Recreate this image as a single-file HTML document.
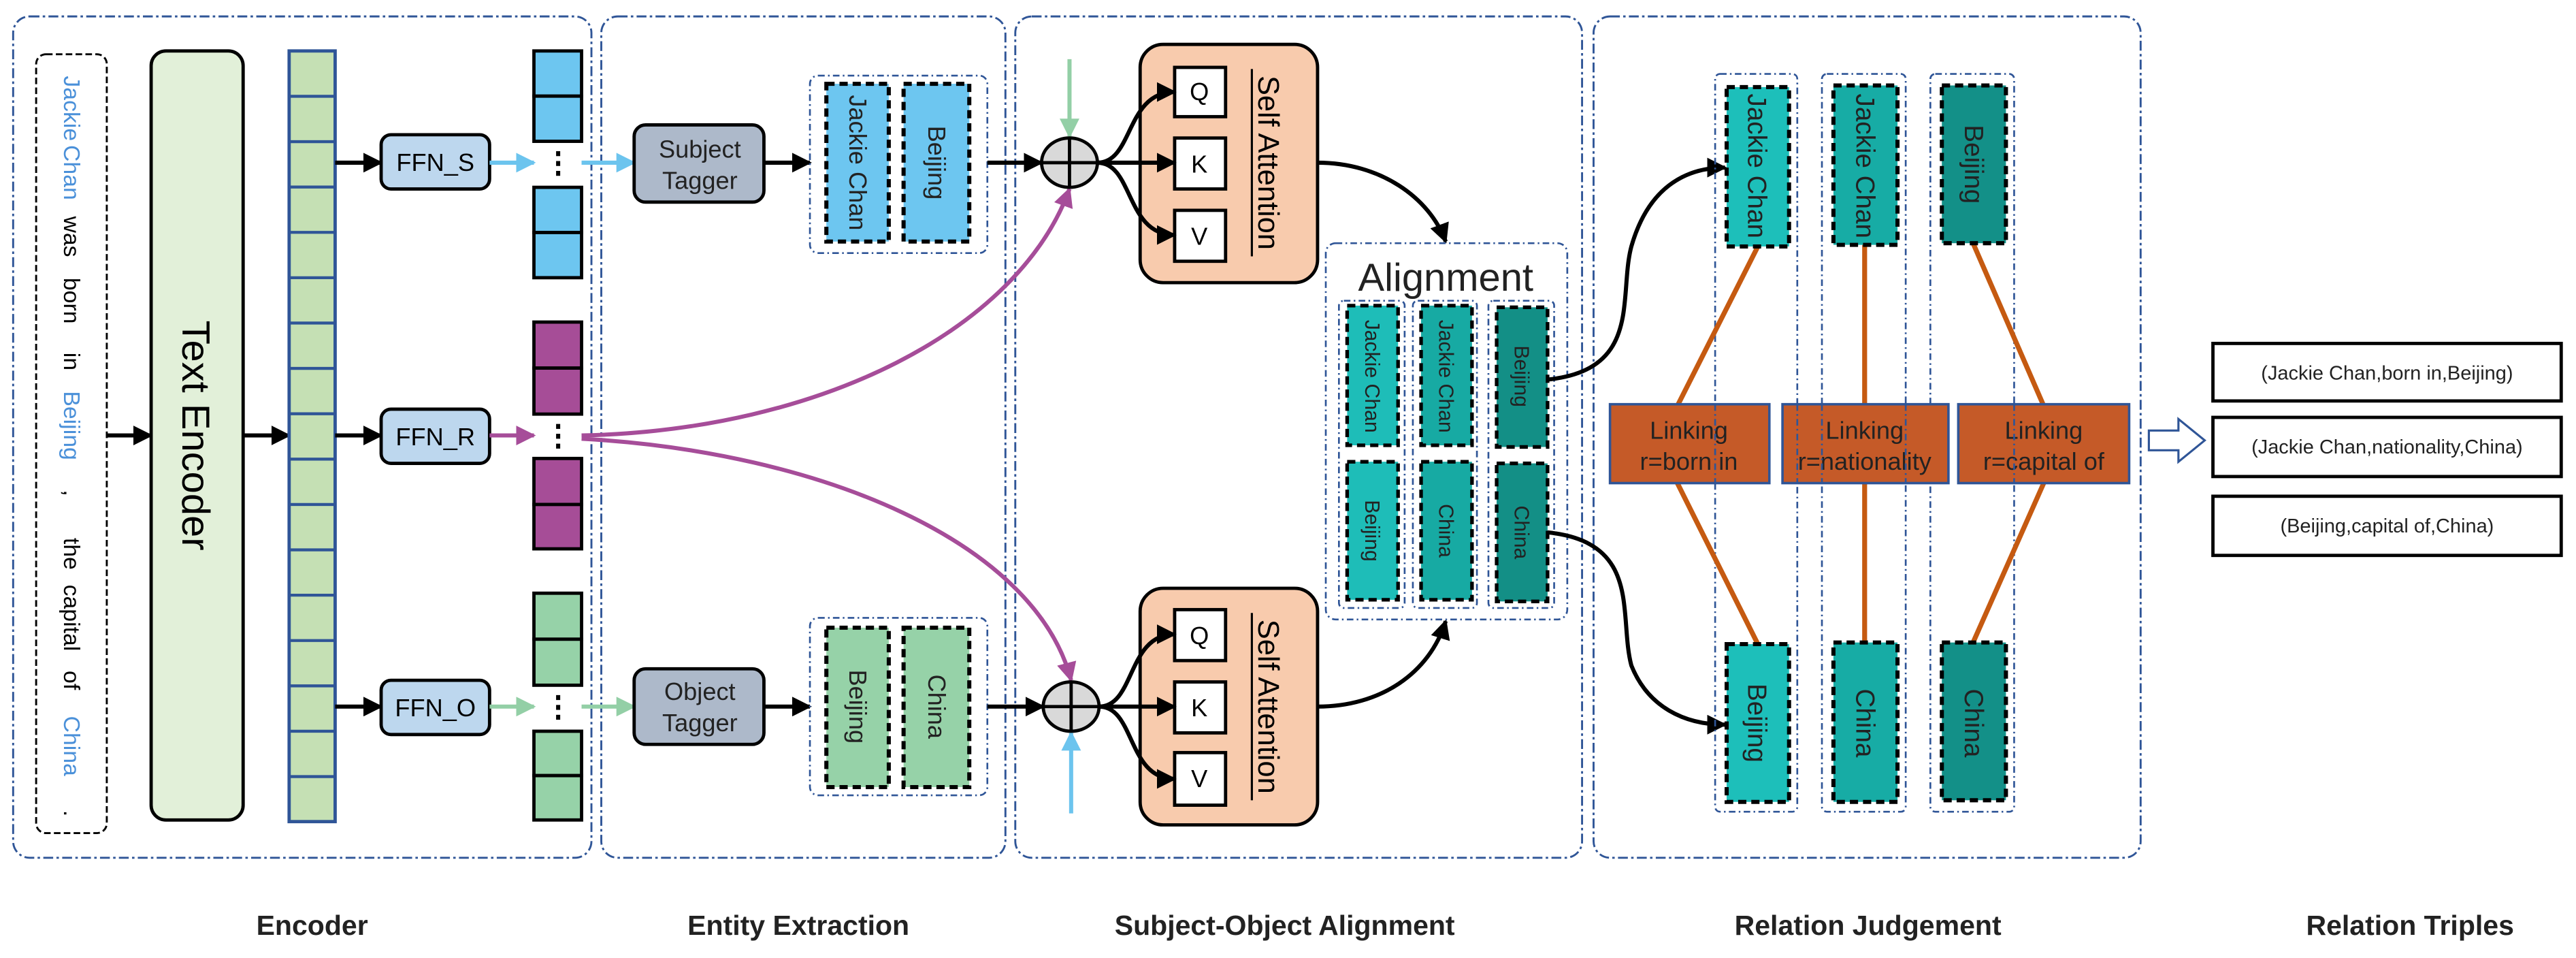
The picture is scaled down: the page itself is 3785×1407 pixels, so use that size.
<!DOCTYPE html>
<html><head><meta charset="utf-8"><style>
html,body{margin:0;padding:0;background:#fff;}
svg{display:block;}
text{font-family:"Liberation Sans",Arial,sans-serif;}
</style></head><body>
<svg width="3785" height="1407" viewBox="0 0 1568 583" preserveAspectRatio="none" xmlns="http://www.w3.org/2000/svg">
<defs>
<marker id="ab" markerUnits="userSpaceOnUse" markerWidth="12" markerHeight="12" viewBox="0 0 10 10" refX="9" refY="5" orient="auto"><path d="M0,0 L10,5 L0,10 z" fill="#000"/></marker>
<marker id="abl" markerUnits="userSpaceOnUse" markerWidth="12" markerHeight="12" viewBox="0 0 10 10" refX="9" refY="5" orient="auto"><path d="M0,0 L10,5 L0,10 z" fill="#6cc4ee"/></marker>
<marker id="agr" markerUnits="userSpaceOnUse" markerWidth="12" markerHeight="12" viewBox="0 0 10 10" refX="9" refY="5" orient="auto"><path d="M0,0 L10,5 L0,10 z" fill="#93cfa6"/></marker>
<marker id="apu" markerUnits="userSpaceOnUse" markerWidth="12" markerHeight="12" viewBox="0 0 10 10" refX="9" refY="5" orient="auto"><path d="M0,0 L10,5 L0,10 z" fill="#a64d99"/></marker>
</defs>

<g fill="none" stroke="#2f5597" stroke-width="1.2" stroke-dasharray="6,2,1.5,2">
<rect x="8" y="10" width="352" height="512" rx="10"/>
<rect x="366" y="10" width="246" height="512" rx="10"/>
<rect x="618" y="10" width="345" height="512" rx="10"/>
<rect x="970" y="10" width="333" height="512" rx="10"/>
</g>

<rect x="22" y="33" width="43" height="474" rx="6" fill="none" stroke="#000" stroke-width="1.2" stroke-dasharray="4,2"/>
<g font-size="14">
<text transform="translate(39,66) rotate(90)" text-anchor="middle" fill="#4a90d9">Jackie</text>
<text transform="translate(39,105) rotate(90)" text-anchor="middle" fill="#4a90d9">Chan</text>
<text transform="translate(39,144) rotate(90)" text-anchor="middle">was</text>
<text transform="translate(39,183) rotate(90)" text-anchor="middle">born</text>
<text transform="translate(39,220) rotate(90)" text-anchor="middle">in</text>
<text transform="translate(39,259) rotate(90)" text-anchor="middle" fill="#4a90d9">Beijing</text>
<text transform="translate(39,300) rotate(90)" text-anchor="middle">,</text>
<text transform="translate(39,337) rotate(90)" text-anchor="middle">the</text>
<text transform="translate(39,376) rotate(90)" text-anchor="middle">capital</text>
<text transform="translate(39,414) rotate(90)" text-anchor="middle">of</text>
<text transform="translate(39,454) rotate(90)" text-anchor="middle" fill="#4a90d9">China</text>
<text transform="translate(39,495) rotate(90)" text-anchor="middle">.</text>
</g>
<line x1="65" y1="265" x2="92" y2="265" stroke="#000" stroke-width="2.5" marker-end="url(#ab)"/>
<rect x="92" y="31" width="56" height="468" rx="9" fill="#e2f0d9" stroke="#000" stroke-width="2"/>
<text transform="translate(111,265) rotate(90)" text-anchor="middle" font-size="24">Text  Encoder</text>
<line x1="148" y1="265" x2="176" y2="265" stroke="#000" stroke-width="2.5" marker-end="url(#ab)"/>
<rect x="176" y="31" width="28" height="469" fill="#c5e0b4" stroke="#2f5597" stroke-width="2"/>
<g stroke="#2f5597" stroke-width="1.8">
<line x1="176" y1="58.6" x2="204" y2="58.6"/><line x1="176" y1="86.2" x2="204" y2="86.2"/><line x1="176" y1="113.8" x2="204" y2="113.8"/><line x1="176" y1="141.4" x2="204" y2="141.4"/><line x1="176" y1="169" x2="204" y2="169"/><line x1="176" y1="196.6" x2="204" y2="196.6"/><line x1="176" y1="224.2" x2="204" y2="224.2"/><line x1="176" y1="251.8" x2="204" y2="251.8"/><line x1="176" y1="279.4" x2="204" y2="279.4"/><line x1="176" y1="307" x2="204" y2="307"/><line x1="176" y1="334.6" x2="204" y2="334.6"/><line x1="176" y1="362.2" x2="204" y2="362.2"/><line x1="176" y1="389.8" x2="204" y2="389.8"/><line x1="176" y1="417.4" x2="204" y2="417.4"/><line x1="176" y1="445" x2="204" y2="445"/><line x1="176" y1="472.6" x2="204" y2="472.6"/>
</g>
<g stroke="#000" stroke-width="2.5">
<line x1="204" y1="99" x2="232" y2="99" marker-end="url(#ab)"/>
<line x1="204" y1="265" x2="232" y2="265" marker-end="url(#ab)"/>
<line x1="204" y1="430" x2="232" y2="430" marker-end="url(#ab)"/>
</g>
<g fill="#bdd7ee" stroke="#000" stroke-width="2">
<rect x="232" y="82" width="66" height="33" rx="6"/>
<rect x="232" y="249" width="66" height="33" rx="6"/>
<rect x="232" y="414" width="66" height="33" rx="6"/>
</g>
<g font-size="15" text-anchor="middle">
<text x="265" y="104">FFN_S</text>
<text x="265" y="271">FFN_R</text>
<text x="265" y="436">FFN_O</text>
</g>
<line x1="298" y1="99" x2="325" y2="99" stroke="#6cc4ee" stroke-width="2.5" marker-end="url(#abl)"/>
<line x1="298" y1="265" x2="325" y2="265" stroke="#a64d99" stroke-width="2.5" marker-end="url(#apu)"/>
<line x1="298" y1="430" x2="325" y2="430" stroke="#93cfa6" stroke-width="2.5" marker-end="url(#agr)"/>
<g stroke="#000" stroke-width="2">
<rect x="325" y="31" width="29" height="27.5" fill="#6dc6f0"/><rect x="325" y="58.5" width="29" height="27.5" fill="#6dc6f0"/>
<rect x="325" y="114" width="29" height="27.5" fill="#6dc6f0"/><rect x="325" y="141.5" width="29" height="27.5" fill="#6dc6f0"/>
<rect x="325" y="196" width="29" height="28" fill="#a64d97"/><rect x="325" y="224" width="29" height="28" fill="#a64d97"/>
<rect x="325" y="279" width="29" height="28" fill="#a64d97"/><rect x="325" y="307" width="29" height="27" fill="#a64d97"/>
<rect x="325" y="361" width="29" height="28" fill="#96d2a8"/><rect x="325" y="389" width="29" height="28" fill="#96d2a8"/>
<rect x="325" y="445" width="29" height="27" fill="#96d2a8"/><rect x="325" y="472" width="29" height="27" fill="#96d2a8"/>
</g>
<g fill="#000">
<rect x="338.5" y="92" width="2.5" height="3"/><rect x="338.5" y="98" width="2.5" height="3"/><rect x="338.5" y="104" width="2.5" height="3"/>
<rect x="338.5" y="258" width="2.5" height="3"/><rect x="338.5" y="264" width="2.5" height="3"/><rect x="338.5" y="270" width="2.5" height="3"/>
<rect x="338.5" y="423" width="2.5" height="3"/><rect x="338.5" y="429" width="2.5" height="3"/><rect x="338.5" y="435" width="2.5" height="3"/>
</g>
<line x1="354" y1="99" x2="386" y2="99" stroke="#6cc4ee" stroke-width="2.5" marker-end="url(#abl)"/>
<line x1="354" y1="430" x2="386" y2="430" stroke="#93cfa6" stroke-width="2.5" marker-end="url(#agr)"/>
<path d="M354,265 C500,262 620,200 651,115" fill="none" stroke="#a64d99" stroke-width="2.5" marker-end="url(#apu)"/>
<path d="M354,267 C500,275 630,330 652,414" fill="none" stroke="#a64d99" stroke-width="2.5" marker-end="url(#apu)"/>

<g fill="#adb9ca" stroke="#000" stroke-width="2">
<rect x="386" y="76" width="79" height="47" rx="7"/>
<rect x="386" y="407" width="79" height="46" rx="7"/>
</g>
<g font-size="15" text-anchor="middle" fill="#222">
<text x="426" y="96">Subject</text><text x="426" y="115">Tagger</text>
<text x="426" y="426">Object</text><text x="426" y="445">Tagger</text>
</g>
<line x1="465" y1="99" x2="493" y2="99" stroke="#000" stroke-width="2.5" marker-end="url(#ab)"/>
<line x1="465" y1="430" x2="493" y2="430" stroke="#000" stroke-width="2.5" marker-end="url(#ab)"/>
<g fill="none" stroke="#2f5597" stroke-width="1.1" stroke-dasharray="4,2,1,2">
<rect x="493" y="46" width="108" height="108" rx="5"/>
<rect x="493" y="376" width="108" height="108" rx="5"/>
</g>
<g stroke="#000" stroke-width="2.5" stroke-dasharray="5,3">
<rect x="503" y="51" width="38" height="96" fill="#6dc6f0"/>
<rect x="550" y="51" width="40" height="96" fill="#6dc6f0"/>
<rect x="503" y="382" width="38" height="97" fill="#96d2a8"/>
<rect x="550" y="382" width="40" height="97" fill="#96d2a8"/>
</g>
<g font-size="15" text-anchor="middle" fill="#222">
<text transform="translate(517,99) rotate(90)">Jackie Chan</text>
<text transform="translate(565,99) rotate(90)">Beijing</text>
<text transform="translate(517,430) rotate(90)">Beijing</text>
<text transform="translate(565,430) rotate(90)">China</text>
</g>

<line x1="601" y1="99" x2="634" y2="99" stroke="#000" stroke-width="2.5" marker-end="url(#ab)"/>
<line x1="601" y1="430" x2="635" y2="430" stroke="#000" stroke-width="2.5" marker-end="url(#ab)"/>
<line x1="651" y1="36" x2="651" y2="83" stroke="#93cfa6" stroke-width="2.5" marker-end="url(#agr)"/>
<line x1="652" y1="495" x2="652" y2="446" stroke="#6cc4ee" stroke-width="2.5" marker-end="url(#abl)"/>
<g fill="#d9d9d9" stroke="#000" stroke-width="2">
<ellipse cx="651" cy="99" rx="17" ry="15"/>
<ellipse cx="652" cy="430" rx="17" ry="15"/>
</g>
<g stroke="#000" stroke-width="2">
<line x1="634" y1="99" x2="668" y2="99"/><line x1="651" y1="84" x2="651" y2="114"/>
<line x1="635" y1="430" x2="669" y2="430"/><line x1="652" y1="415" x2="652" y2="445"/>
</g>
<g fill="#f8cbad" stroke="#000" stroke-width="2">
<rect x="694" y="27" width="108" height="145" rx="14"/>
<rect x="694" y="358" width="108" height="144" rx="14"/>
</g>
<g fill="#fff" stroke="#000" stroke-width="2">
<rect x="715" y="41" width="31" height="30"/><rect x="715" y="84" width="31" height="31"/><rect x="715" y="128" width="31" height="31"/>
<rect x="715" y="371" width="31" height="31"/><rect x="715" y="415" width="31" height="31"/><rect x="715" y="458" width="31" height="32"/>
</g>
<g font-size="15" text-anchor="middle">
<text x="730" y="61">Q</text><text x="730" y="105">K</text><text x="730" y="149">V</text>
<text x="730" y="392">Q</text><text x="730" y="436">K</text><text x="730" y="479">V</text>
</g>
<g font-size="18" text-anchor="middle">
<text transform="translate(766,99) rotate(90)">Self Attention</text>
<text transform="translate(766,430) rotate(90)">Self Attention</text>
</g>
<g stroke="#000" stroke-width="1.3"><line x1="762" y1="42" x2="762" y2="156"/><line x1="762" y1="373" x2="762" y2="487"/></g>
<g fill="none" stroke="#000" stroke-width="2.5">
<path d="M668,99 C690,99 685,56 715,56" marker-end="url(#ab)"/>
<path d="M668,99 L715,99" marker-end="url(#ab)"/>
<path d="M668,99 C690,99 685,143 715,143" marker-end="url(#ab)"/>
<path d="M669,430 C691,430 686,386 715,386" marker-end="url(#ab)"/>
<path d="M669,430 L715,430" marker-end="url(#ab)"/>
<path d="M669,430 C691,430 686,474 715,474" marker-end="url(#ab)"/>
<path d="M802,99 C840,99 870,120 880,147" marker-end="url(#ab)"/>
<path d="M802,430 C840,430 870,410 880,378" marker-end="url(#ab)"/>
</g>
<rect x="807" y="148" width="147" height="229" rx="6" fill="none" stroke="#2f5597" stroke-width="1.1" stroke-dasharray="4,2,1,2"/>
<text x="880" y="177" font-size="24" text-anchor="middle" fill="#222">Alignment</text>
<g fill="none" stroke="#2f5597" stroke-width="1.1" stroke-dasharray="4,2,1,2">
<rect x="815" y="183" width="40" height="187" rx="3"/>
<rect x="860" y="183" width="39" height="187" rx="3"/>
<rect x="906" y="183" width="40" height="187" rx="3"/>
</g>
<g stroke="#000" stroke-width="2.2" stroke-dasharray="5,3">
<rect x="820" y="186" width="31" height="85" fill="#1ebdb8"/>
<rect x="865" y="186" width="31" height="85" fill="#17aaa3"/>
<rect x="911" y="187" width="31" height="85" fill="#138f86"/>
<rect x="820" y="281" width="31" height="84" fill="#1ebdb8"/>
<rect x="865" y="281" width="31" height="84" fill="#17aaa3"/>
<rect x="911" y="282" width="31" height="84" fill="#138f86"/>
</g>
<g font-size="12.5" text-anchor="middle" fill="#222">
<text transform="translate(831,229) rotate(90)">Jackie Chan</text>
<text transform="translate(876,229) rotate(90)">Jackie Chan</text>
<text transform="translate(922,229) rotate(90)">Beijing</text>
<text transform="translate(831,323) rotate(90)">Beijing</text>
<text transform="translate(876,323) rotate(90)">China</text>
<text transform="translate(922,324) rotate(90)">China</text>
</g>
<g fill="none" stroke="#000" stroke-width="2.5">
<path d="M942,231 C1000,225 985,180 993,150 C1003,115 1025,102 1050,102" marker-end="url(#ab)"/>
<path d="M942,324 C1000,330 985,375 993,405 C1003,430 1025,441 1050,441" marker-end="url(#ab)"/>
</g>

<g fill="none" stroke="#2f5597" stroke-width="1.1" stroke-dasharray="4,2,1,2">
<rect x="1044" y="45" width="50" height="449" rx="3"/>
<rect x="1109" y="45" width="51" height="449" rx="3"/>
<rect x="1175" y="45" width="51" height="449" rx="3"/>
</g>
<g stroke="#c55a11" stroke-width="3">
<line x1="1070" y1="150" x2="1021" y2="247"/><line x1="1021" y1="294" x2="1070" y2="392"/>
<line x1="1135" y1="149" x2="1135" y2="247"/><line x1="1135" y1="294" x2="1135" y2="391"/>
<line x1="1201" y1="148" x2="1244" y2="247"/><line x1="1244" y1="294" x2="1201" y2="391"/>
</g>
<g stroke="#000" stroke-width="2.5" stroke-dasharray="5,3">
<rect x="1051" y="53" width="38" height="97" fill="#1dbfba"/>
<rect x="1116" y="52" width="39" height="97" fill="#17aca5"/>
<rect x="1182" y="52" width="39" height="96" fill="#139088"/>
<rect x="1051" y="392" width="38" height="96" fill="#1dbfba"/>
<rect x="1116" y="391" width="39" height="97" fill="#17aca5"/>
<rect x="1182" y="391" width="39" height="96" fill="#139088"/>
</g>
<g font-size="16" text-anchor="middle" fill="#222">
<text transform="translate(1064,101) rotate(90)">Jackie Chan</text>
<text transform="translate(1130,101) rotate(90)">Jackie Chan</text>
<text transform="translate(1196,100) rotate(90)">Beijing</text>
<text transform="translate(1064,440) rotate(90)">Beijing</text>
<text transform="translate(1130,440) rotate(90)">China</text>
<text transform="translate(1196,440) rotate(90)">China</text>
</g>
<g fill="#c55a28" stroke="#2f5597" stroke-width="1.5">
<rect x="980" y="246" width="97" height="48"/>
<rect x="1085" y="246" width="101" height="48"/>
<rect x="1192" y="246" width="104" height="48"/>
</g>
<g font-size="15" text-anchor="middle" fill="#222">
<text x="1028" y="267">Linking</text><text x="1028" y="286">r=born in</text>
<text x="1135" y="267">Linking</text><text x="1135" y="286">r=nationality</text>
<text x="1244" y="267">Linking</text><text x="1244" y="286">r=capital of</text>
</g>
<g fill="none" stroke="#2f5597" stroke-width="1.1" stroke-dasharray="4,2,1,2">
<line x1="1044" y1="246" x2="1044" y2="294"/><line x1="1094" y1="246" x2="1094" y2="294"/>
<line x1="1109" y1="246" x2="1109" y2="294"/><line x1="1160" y1="246" x2="1160" y2="294"/>
<line x1="1226" y1="246" x2="1226" y2="294"/>
</g>

<path d="M1308,262 L1326,262 L1326,255 L1342,268 L1326,281 L1326,274 L1308,274 z" fill="#fff" stroke="#2f5597" stroke-width="1.3"/>

<g fill="#fff" stroke="#000" stroke-width="2">
<rect x="1347" y="209" width="212" height="35"/>
<rect x="1347" y="254" width="212" height="36"/>
<rect x="1347" y="302" width="212" height="36"/>
</g>
<g font-size="12" text-anchor="middle" fill="#222">
<text x="1453" y="231">(Jackie Chan,born in,Beijing)</text>
<text x="1453" y="276">(Jackie Chan,nationality,China)</text>
<text x="1453" y="324">(Beijing,capital of,China)</text>
</g>

<g font-size="17" font-weight="bold" text-anchor="middle" fill="#222">
<text x="190" y="569">Encoder</text>
<text x="486" y="569">Entity Extraction</text>
<text x="782" y="569">Subject-Object Alignment</text>
<text x="1137" y="569">Relation Judgement</text>
<text x="1467" y="569">Relation Triples</text>
</g>
</svg>
</body></html>
